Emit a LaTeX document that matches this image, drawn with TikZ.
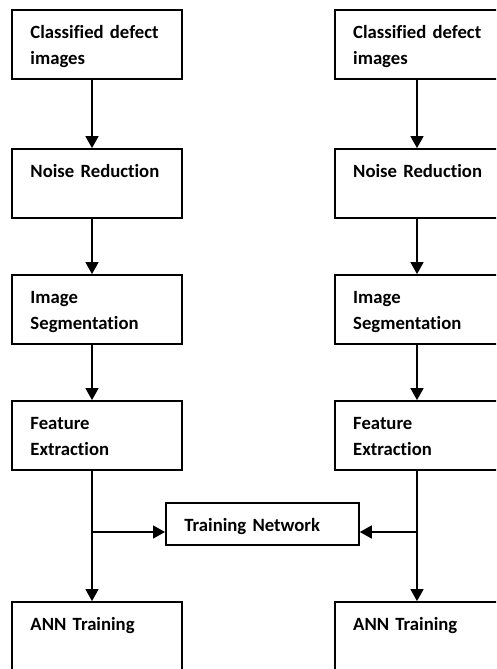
\documentclass[tikz,border=0pt]{standalone}
\usepackage{fontspec}
\setmainfont{Carlito}[Ligatures=NoCommon]
\usetikzlibrary{arrows.meta, positioning}
\tikzstyle{stage} = [rectangle, draw=black, line width=1.8pt, text width=133pt, align=left, inner xsep=18.5pt, inner ysep=0pt, text height=28pt, text depth=41pt, font=\fontsize{18.7}{26}\selectfont\bfseries]
\tikzstyle{trainbox} = [stage, text width=156pt, text depth=14pt]
\tikzstyle{arrow} = [line width=1.5pt, -{Triangle[length=12pt, width=13pt]}]
\begin{document}
\begin{tikzpicture}[node distance=126pt]

\path[use as bounding box, clip] (0pt,0pt) rectangle (496pt,-669pt);

% Left column
\node (l1) [stage] at (97pt,-44.5pt) {Classified defect\\images};
\node (l2) [stage, below of=l1, yshift=-13pt] {Noise Reduction};
\node (l3) [stage, below of=l2] {Image\\Segmentation};
\node (l4) [stage, below of=l3] {Feature\\Extraction};
\node (l5) [stage, below of=l4, yshift=-75pt] {ANN Training};

% Right column
\node (r1) [stage, right of=l1, xshift=196.7pt] {Classified defect\\images};
\node (r2) [stage, below of=r1, yshift=-13pt] {Noise Reduction};
\node (r3) [stage, below of=r2] {Image\\Segmentation};
\node (r4) [stage, below of=r3] {Feature\\Extraction};
\node (r5) [stage, below of=r4, yshift=-75pt] {ANN Training};

% Shared block
\node (train) [trainbox] at (262.4pt,-524pt) {Training Network};

% Arrows
\draw [arrow] ([xshift=-5pt]l1.south) -- ([xshift=-5pt]l2.north);
\draw [arrow] ([xshift=-5pt]l2.south) -- ([xshift=-5pt]l3.north);
\draw [arrow] ([xshift=-5pt]l3.south) -- ([xshift=-5pt]l4.north);
\draw [arrow] ([xshift=-5pt]l4.south) -- ([xshift=-5pt]l5.north);
\draw [arrow] ([xshift=-2.7pt]r1.south) -- ([xshift=-2.7pt]r2.north);
\draw [arrow] ([xshift=-2.7pt]r2.south) -- ([xshift=-2.7pt]r3.north);
\draw [arrow] ([xshift=-2.7pt]r3.south) -- ([xshift=-2.7pt]r4.north);
\draw [arrow] ([xshift=-2.7pt]r4.south) -- ([xshift=-2.7pt]r5.north);

\coordinate (tw) at ([yshift=-8pt]train.west);
\coordinate (te) at ([yshift=-8pt]train.east);
\coordinate (jl) at ([xshift=-5pt]l4.south |- tw);
\coordinate (jr) at ([xshift=-2.7pt]r4.south |- te);
\draw [arrow] (jl) -- (tw);
\draw [arrow] (jr) -- (te);

\end{tikzpicture}
\end{document}
